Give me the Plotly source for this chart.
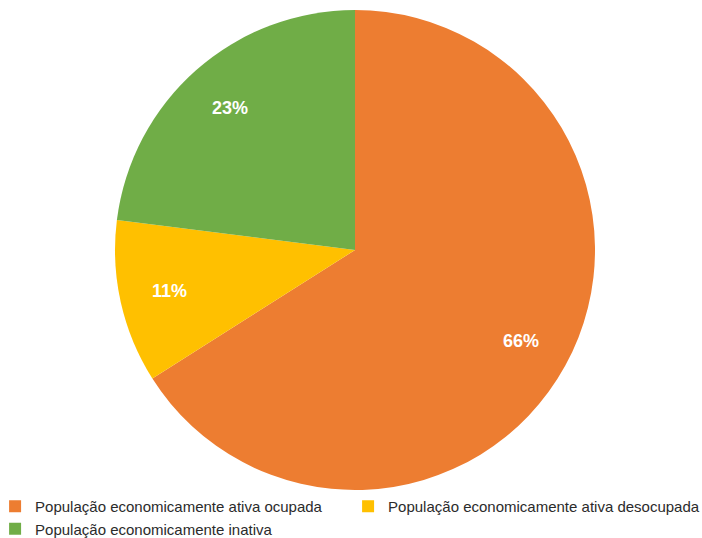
import math
import plotly.graph_objects as go

labels = ["População economicamente ativa ocupada",
          "População economicamente ativa desocupada",
          "População economicamente inativa"]
values = [66, 11, 23]
colors = ["#ED7D31", "#FFC000", "#70AD47"]

W, H = 702, 538
cx, cy, r = 355, 250, 240
label_radius = 0.79

fig = go.Figure(go.Pie(
    labels=labels, values=values, sort=False, direction="clockwise", rotation=0,
    marker=dict(colors=colors, line=dict(width=0)),
    textinfo="none",
    domain=dict(x=[(cx - r) / W, (cx + r) / W], y=[1 - (cy + r) / H, 1 - (cy - r) / H]),
    hoverinfo="label+percent",
))

# data labels at mid-angle of each slice
total = sum(values)
cum = 0
for v in values:
    mid = (cum + v / 2) / total * 2 * math.pi
    cum += v
    px = cx + label_radius * r * math.sin(mid)
    py = cy - label_radius * r * math.cos(mid)
    fig.add_annotation(x=px / W, y=1 - py / H, xref="paper", yref="paper",
                       xanchor="center", yanchor="middle",
                       text="<b>%d%%</b>" % round(v / total * 100), showarrow=False,
                       font=dict(color="white", size=18, family="Liberation Sans, Arial"))

fig.update_layout(
    width=W, height=H, margin=dict(l=0, r=0, t=0, b=0, autoexpand=False),
    paper_bgcolor="white", plot_bgcolor="white",
    font=dict(family="Liberation Sans, Arial", size=15, color="#333333"),
    legend=dict(orientation="h", x=-0.007, xanchor="left", y=-0.013, yanchor="bottom",
                entrywidth=308, entrywidthmode="pixels", tracegroupgap=0,
                bgcolor="rgba(0,0,0,0)", itemwidth=30,
                font=dict(size=15, color="#2b2b2b")),
)
fig.write_html("out.html")
